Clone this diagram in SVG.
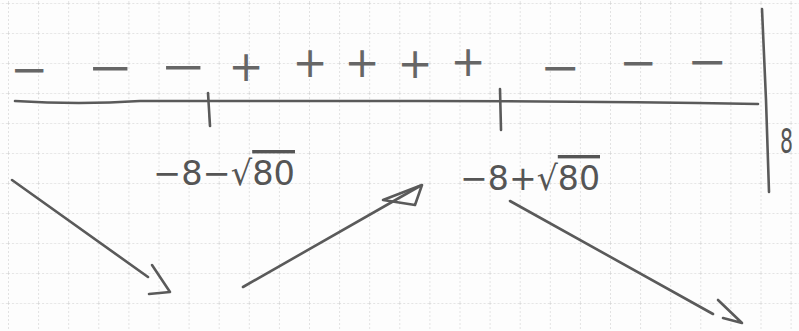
<svg xmlns="http://www.w3.org/2000/svg" width="799" height="331" viewBox="0 0 799 331">
<defs>
<pattern id="grid" x="8" y="3" width="30.1" height="30" patternUnits="userSpaceOnUse">
<path d="M0 0H30.1M0 0V30" fill="none" stroke="#c9c9c9" stroke-width="1" stroke-dasharray="2 2"/>
</pattern>
</defs>
<style>
.pen{fill:none;stroke:#5a5a5a;stroke-width:2.6;stroke-linecap:round;stroke-linejoin:round}
.sign{font-family:"DejaVu Sans",sans-serif;font-size:42px;fill:#666;text-anchor:middle}
.lbl{font-family:"DejaVu Sans",sans-serif;font-size:34px;fill:#555}
</style>
<rect width="799" height="331" fill="#fdfdfd"/>
<rect width="799" height="331" fill="url(#grid)"/>
<g id="signs">
<text class="sign" x="29" y="84" textLength="38" lengthAdjust="spacingAndGlyphs">−</text>
<text class="sign" x="110" y="82" textLength="46" lengthAdjust="spacingAndGlyphs">−</text>
<text class="sign" x="183" y="81" textLength="46" lengthAdjust="spacingAndGlyphs">−</text>
<text class="sign" x="246" y="81">+</text>
<text class="sign" x="310" y="77">+</text>
<text class="sign" x="362" y="77">+</text>
<text class="sign" x="415" y="78">+</text>
<text class="sign" x="468" y="76">+</text>
<text class="sign" x="560" y="82" textLength="40" lengthAdjust="spacingAndGlyphs">−</text>
<text class="sign" x="638" y="77" textLength="38" lengthAdjust="spacingAndGlyphs">−</text>
<text class="sign" x="707" y="76" textLength="40" lengthAdjust="spacingAndGlyphs">−</text>
</g>
<g id="axis">
<path class="pen" d="M15 101 Q80 105 140 101 L420 101 Q600 101 758 104"/>
<path class="pen" d="M208 93 L210 126"/>
<path class="pen" d="M500 89 L501 130"/>
<path class="pen" d="M762 9 L766 100 L769 192"/>
</g>
<g id="labels">
<text class="lbl" x="153" y="185" textLength="142" lengthAdjust="spacingAndGlyphs">−8−√<tspan text-decoration="overline">80</tspan></text>
<text class="lbl" x="460" y="190" textLength="140" lengthAdjust="spacingAndGlyphs">−8+√<tspan text-decoration="overline">80</tspan></text>
<text class="lbl" transform="translate(780 153) scale(0.6 1)" x="0" y="0" font-size="42">8</text>
</g>
<g id="arrows">
<path class="pen" d="M12 180 L148 277"/>
<path class="pen" d="M152 265 L170 292 L149 294"/>
<path class="pen" d="M243 287 L420 186"/>
<path class="pen" d="M383 200 L422 185 L415 205 Z"/>
<path class="pen" d="M510 201 L713 314"/>
<path class="pen" d="M718 300 L742 323 L723 318"/>
</g>
</svg>
